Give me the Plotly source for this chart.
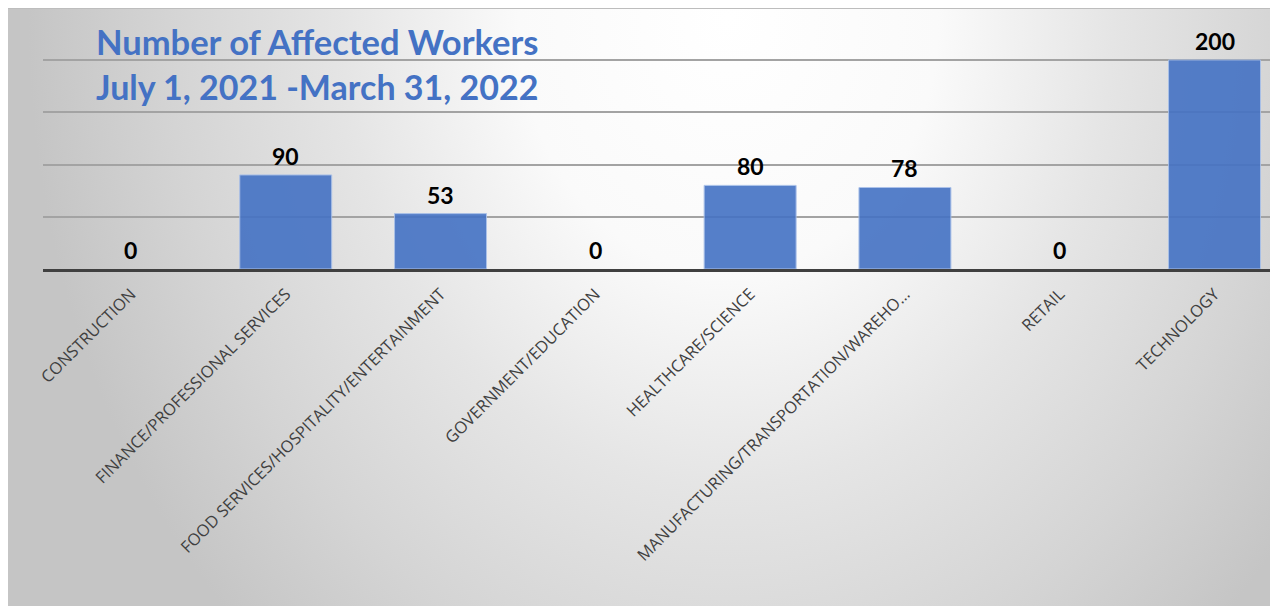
import base64
import plotly.graph_objects as go

# data
CATEGORIES = ["CONSTRUCTION", "FINANCE/PROFESSIONAL SERVICES",
              "FOOD SERVICES/HOSPITALITY/ENTERTAINMENT", "GOVERNMENT/EDUCATION",
              "HEALTHCARE/SCIENCE", "MANUFACTURING/TRANSPORTATION/WAREHO…",
              "RETAIL", "TECHNOLOGY"]
WORKERS = [0, 90, 53, 0, 80, 78, 0, 200]
TITLE_1 = "Number of Affected Workers"
TITLE_2 = "July 1, 2021 -March 31, 2022"

W, H = 1270, 598
BLUE = "#4472C4"

# soft radial background like the office chart style
svg = f"""<svg xmlns="http://www.w3.org/2000/svg" width="{W}" height="{H}" viewBox="0 0 {W} {H}" preserveAspectRatio="none">
<defs><radialGradient id="g" gradientUnits="userSpaceOnUse" cx="0" cy="0" r="1"
 gradientTransform="translate(720 10) scale(700 850)">
<stop offset="0" stop-color="#ffffff"/>
<stop offset="0.3" stop-color="#fafafa"/>
<stop offset="0.55" stop-color="#e5e5e5"/>
<stop offset="0.8" stop-color="#d4d4d4"/>
<stop offset="1" stop-color="#c5c5c5"/>
</radialGradient></defs>
<rect x="0" y="0" width="{W}" height="{H}" fill="url(#g)"/>
<line x1="0" y1="0.5" x2="{W}" y2="0.5" stroke="#bdbdbd" stroke-width="1"/>
</svg>"""
bg_src = "data:image/svg+xml;base64," + base64.b64encode(svg.encode()).decode()

fig = go.Figure()
fig.add_trace(go.Bar(
    x=CATEGORIES, y=WORKERS, width=0.594,
    marker=dict(color=BLUE, opacity=0.9,
                line=dict(color="#a4bde8", width=[0 if v == 0 else 1 for v in WORKERS])),
    hoverinfo="skip", showlegend=False,
))

for c, v in zip(CATEGORIES, WORKERS):
    fig.add_annotation(x=c, y=v, text=str(v), showarrow=False, yanchor="middle",
                       yshift=19, font=dict(family="Lato", size=23, color="black",
                                            weight="bold"))

fig.add_annotation(xref="paper", yref="paper", x=86 / W, y=1 - 34 / H,
                   xanchor="left", yanchor="middle", text=TITLE_1, showarrow=False,
                   font=dict(family="Lato", size=34.5, color=BLUE, weight="bold"))
fig.add_annotation(xref="paper", yref="paper", x=86 / W, y=1 - 78 / H,
                   xanchor="left", yanchor="middle", text=TITLE_2, showarrow=False,
                   font=dict(family="Lato", size=34, color=BLUE, weight="bold"))

fig.update_layout(
    width=W, height=H,
    margin=dict(l=0, r=0, t=0, b=0),
    paper_bgcolor="white", plot_bgcolor="rgba(0,0,0,0)",
    images=[dict(source=bg_src, xref="paper", yref="paper", x=0, y=1,
                 sizex=1, sizey=1, sizing="stretch", xanchor="left",
                 yanchor="top", layer="below")],
    xaxis=dict(domain=[35 / W, 1], range=[-0.568, 7.41], automargin=False,
               tickangle=-45, ticks="", showgrid=False, ticklabelstandoff=6,
               showline=True, linecolor="#404040", linewidth=3, zeroline=False,
               tickfont=dict(family="Open Sans", size=16.5, color="#404040")),
    yaxis=dict(domain=[1 - 261 / H, 1 - 49.9 / H], range=[0, 202], dtick=50,
               showticklabels=False, ticks="", zeroline=False, automargin=False,
               gridcolor="#a3a3a3", gridwidth=1.5),
)

fig.write_html("out.html")
